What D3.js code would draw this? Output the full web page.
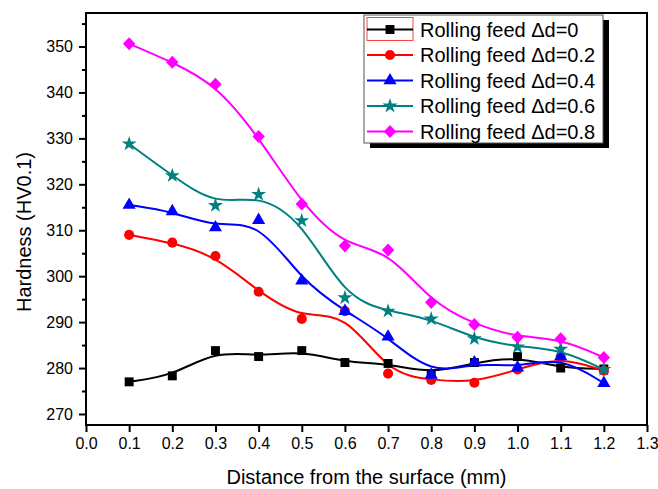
<!DOCTYPE html>
<html>
<head>
<meta charset="utf-8">
<script src="https://cdn.jsdelivr.net/npm/d3@7"></script>
<style>
  body { margin: 0; background: #fff; }
  text { font-family: "Liberation Sans", Arial, sans-serif; fill: #000; }
</style>
</head>
<body>
<svg id="chart" width="658" height="489"></svg>
<script>
// distance from surface (mm)
var depth = [0.1, 0.2, 0.3, 0.4, 0.5, 0.6, 0.7, 0.8, 0.9, 1.0, 1.1, 1.2];

// hardness values
var feed0  = [277.0, 278.3, 283.8, 282.5, 283.8, 281.2, 281.0, 278.7, 281.2, 282.5, 280.0, 279.8];
var feed02 = [309.0, 307.3, 304.4, 296.6, 290.7, 292.4, 278.8, 277.4, 276.8, 279.7, 282.5, 279.4];
var feed04 = [315.5, 314.1, 310.6, 312.2, 299.0, 292.4, 286.8, 278.5, 281.2, 280.1, 282.5, 276.7];
var feed06 = [328.8, 321.9, 315.4, 317.8, 312.1, 295.3, 292.4, 290.7, 286.4, 284.6, 284.1, 279.7];
var feed08 = [350.6, 346.6, 341.8, 330.4, 315.7, 306.6, 305.7, 294.3, 289.5, 286.7, 286.4, 282.3];

var seriesNames = ["Rolling feed \u0394d=0", "Rolling feed \u0394d=0.2", "Rolling feed \u0394d=0.4",
                   "Rolling feed \u0394d=0.6", "Rolling feed \u0394d=0.8"];
var xTicks = [0.0, 0.1, 0.2, 0.3, 0.4, 0.5, 0.6, 0.7, 0.8, 0.9, 1.0, 1.1, 1.2, 1.3];
var yTicks = [270, 280, 290, 300, 310, 320, 330, 340, 350];
var yMinor = [275, 285, 295, 305, 315, 325, 335, 345, 355];

var colors = ["#000000", "#ff0000", "#0000ff", "#008080", "#ff00ff"];

// diamond a bit wider than d3's own
var wideDiamond = {
  draw: function(ctx, size) {
    var r = Math.sqrt(size / 2);
    ctx.moveTo(0, -r);
    ctx.lineTo(r * 0.95, 0);
    ctx.lineTo(0, r);
    ctx.lineTo(-r * 0.95, 0);
    ctx.closePath();
  }
};
var shapes = [
  { type: d3.symbolSquare, size: 80 },
  { type: d3.symbolCircle, size: 80 },
  { type: d3.symbolTriangle, size: 75 },
  { type: d3.symbolStar, size: 70 },
  { type: wideDiamond, size: 85 }
];

var allSeries = [feed0, feed02, feed04, feed06, feed08];

var svg = d3.select("#chart");
var padL = 86, padT = 13, padR = 647, padB = 425;

var x = d3.scaleLinear().domain([0, 1.3]).range([padL, padR]);
var y = d3.scaleLinear().domain([267.6, 357.3]).range([padB, padT]);

// axes
var xAxis = d3.axisBottom(x).tickValues(xTicks).tickSize(7).tickPadding(6)
  .tickFormat(d3.format(".1f"));
var gx = svg.append("g").attr("transform", "translate(0," + padB + ")").call(xAxis);

var yAxis = d3.axisLeft(y).tickValues(yTicks).tickSize(7).tickPadding(6);
var gy = svg.append("g").attr("transform", "translate(" + padL + ",0)").call(yAxis);
var gyMinor = svg.append("g").attr("transform", "translate(" + padL + ",0)")
  .call(d3.axisLeft(y).tickValues(yMinor).tickSize(4).tickFormat(""));

[gx, gy, gyMinor].forEach(function(g) {
  g.select(".domain").remove();
  g.selectAll("line").attr("stroke", "#000").attr("stroke-width", 2);
  g.selectAll("text").style("font-size", "16px").attr("fill", "#000");
});

// frame
svg.append("rect")
  .attr("x", padL).attr("y", padT)
  .attr("width", padR - padL).attr("height", padB - padT)
  .attr("fill", "none").attr("stroke", "#000").attr("stroke-width", 2);

// titles
svg.append("text")
  .attr("x", (padL + padR) / 2).attr("y", 484)
  .attr("text-anchor", "middle").style("font-size", "20px")
  .text("Distance from the surface (mm)");
svg.append("text")
  .attr("transform", "translate(31,232) rotate(-90)")
  .attr("text-anchor", "middle").style("font-size", "20px")
  .text("Hardness (HV0.1)");

// lines + markers
var line = d3.line()
  .x(function(d, i) { return x(depth[i]); })
  .y(function(d) { return y(d); })
  .curve(d3.curveBasis);

allSeries.forEach(function(vals, k) {
  svg.append("path")
    .datum(vals)
    .attr("d", line)
    .attr("fill", "none")
    .attr("stroke", colors[k])
    .attr("stroke-width", 2);
});
allSeries.forEach(function(vals, k) {
  svg.append("g").selectAll("path")
    .data(vals)
    .enter().append("path")
    .attr("transform", function(d, i) { return "translate(" + x(depth[i]) + "," + y(d) + ")"; })
    .attr("d", d3.symbol().type(shapes[k].type).size(shapes[k].size))
    .attr("fill", colors[k]);
});

// legend
var lg = svg.append("g").attr("transform", "translate(364,15)");
lg.append("rect").attr("x", 6).attr("y", 5).attr("width", 239).attr("height", 128).attr("fill", "#000");
lg.append("rect").attr("x", 0).attr("y", 0).attr("width", 239).attr("height", 128)
  .attr("fill", "#fff").attr("stroke", "#555").attr("stroke-width", 1);
// selection box around first sample, as in the source figure
lg.append("rect").attr("x", 3).attr("y", 2.5).attr("width", 46).attr("height", 23)
  .attr("fill", "none").attr("stroke", "#ff4040").attr("stroke-width", 1);

var rows = lg.selectAll("g.row")
  .data(seriesNames)
  .enter().append("g")
  .attr("class", "row")
  .attr("transform", function(d, i) { return "translate(0," + (14.5 + i * 25.5) + ")"; });
rows.append("line")
  .attr("x1", 3).attr("x2", 49).attr("y1", 0).attr("y2", 0)
  .attr("stroke", function(d, i) { return colors[i]; })
  .attr("stroke-width", 2);
rows.append("path")
  .attr("transform", "translate(26,0)")
  .attr("d", function(d, i) { return d3.symbol().type(shapes[i].type).size(shapes[i].size)(); })
  .attr("fill", function(d, i) { return colors[i]; });
rows.append("text")
  .attr("x", 56).attr("y", 7)
  .style("font-size", "20px")
  .text(function(d) { return d; });
</script>
</body>
</html>
